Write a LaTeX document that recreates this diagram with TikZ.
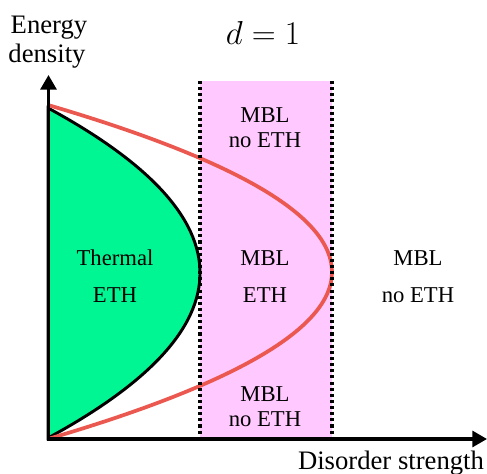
\documentclass[tikz,border=0pt]{standalone}
\usepackage{fontspec}
\setmainfont{Liberation Serif}
\usetikzlibrary{arrows.meta}
\definecolor{pinkband}{RGB}{255,200,255}
\definecolor{thermgreen}{RGB}{0,246,146}
\definecolor{curvered}{RGB}{234,88,80}
\tikzset{
  lbl/.style={anchor=base, inner sep=0pt, font=\fontsize{17}{19}\selectfont},
  axlbl/.style={anchor=base, inner sep=0pt, font=\fontsize{20}{22}\selectfont},
  axis/.style={line width=2.3pt, -{Triangle[length=11pt,width=12pt]}},
  bandedge/.style={line width=2.5pt, dash pattern=on 2.3pt off 2.3pt},
}
\begin{document}
\begin{tikzpicture}[x=0.75pt,y=-0.75pt]
\useasboundingbox (0,0) rectangle (487,474);
% pink band
\fill[pinkband] (200,81) rectangle (332,439);
% thermal region
\filldraw[fill=thermgreen, draw=black, line width=2.2pt]
  (48,108) .. controls (250.7,218) and (250.7,328) .. (48,438) -- cycle;
% red curve
\draw[curvered, line width=2.8pt]
  (48,105) .. controls (426.7,216.3) and (426.7,327.7) .. (48,439);
% dotted band edges
\coordinate (lt) at (200,81);
\coordinate (lb) at (200,439);
\coordinate (rt) at (332,81);
\coordinate (rb) at (332,439);
\draw[bandedge] (lt) -- (lb);
\draw[bandedge] (rt) -- (rb);
% axes
\coordinate (o) at (48.5,439);
\coordinate (ytip) at (48.5,75);
\coordinate (xtip) at (487,439);
\draw[axis] (48.5,440.5) -- (ytip);
\draw[axis] (47,439) -- (xtip);
% labels
\node[axlbl] (e1) at (49,34) {Energy};
\node[axlbl] (e2) at (47,63) {density};
\node[axlbl] (ds) at (391,470) {Disorder strength};
\node[anchor=base, inner sep=0pt, font=\fontsize{23}{25}\selectfont] (d1) at (263,45) {$d=1$};
\node[lbl] (th1) at (115,266) {Thermal};
\node[lbl] (th2) at (115,303) {ETH};
\node[lbl] (m1) at (265,266) {MBL};
\node[lbl] (m2) at (265,303) {ETH};
\node[lbl] (r1) at (418,266) {MBL};
\node[lbl] (r2) at (418,303) {no ETH};
\node[lbl] (t1) at (265,123) {MBL};
\node[lbl] (t2) at (265,148) {no ETH};
\node[lbl] (b1) at (265,402) {MBL};
\node[lbl] (b2) at (265,427) {no ETH};
\end{tikzpicture}
\end{document}
